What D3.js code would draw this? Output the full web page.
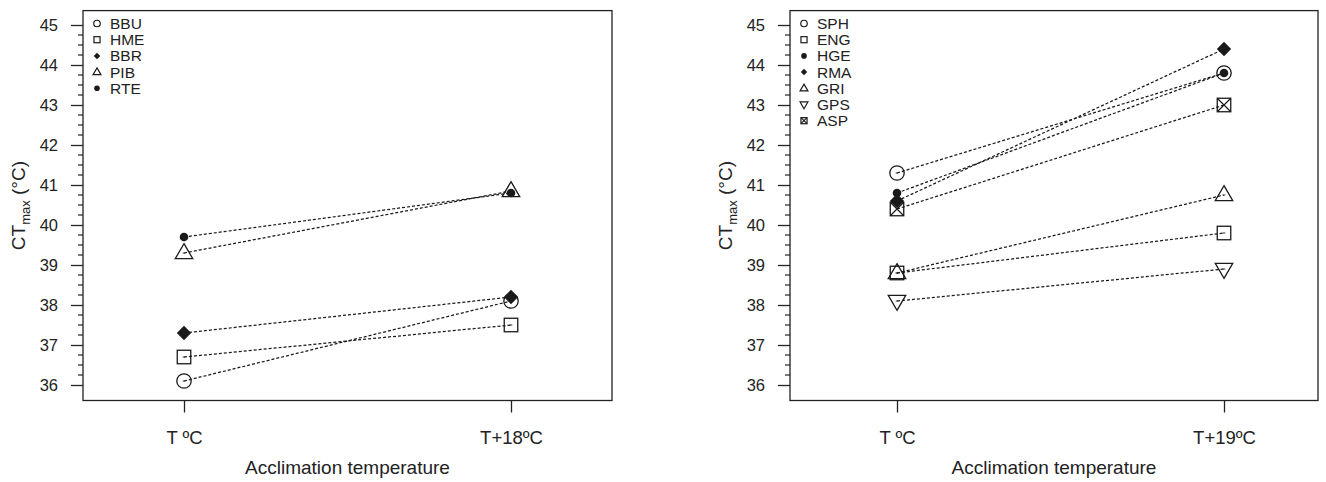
<!DOCTYPE html>
<html>
<head>
<meta charset="utf-8">
<script src="https://cdn.jsdelivr.net/npm/d3@7/dist/d3.min.js"></script>
<style>
  html, body { margin: 0; padding: 0; background: #fff; }
  svg { display: block; font-family: "Liberation Sans", Arial, sans-serif; }
</style>
</head>
<body>
<svg id="chart" width="1326" height="482"></svg>
<script>
// Acclimation levels (x categories) for each panel
const levelsA = ["T ºC", "T+18ºC"];
const levelsB = ["T ºC", "T+19ºC"];

// Panel A populations and their CTmax at each acclimation level
const popsA = ["BBU", "HME", "BBR", "PIB", "RTE"];
const lowA  = [36.1, 36.7, 37.3, 39.3, 39.7];
const highA = [38.1, 37.5, 38.2, 40.85, 40.8];

// Panel B populations
const popsB = ["SPH", "ENG", "HGE", "RMA", "GRI", "GPS", "ASP"];
const lowB  = [41.3, 38.8, 40.8, 40.6, 38.8, 38.1, 40.4];
const highB = [43.8, 39.8, 43.8, 44.4, 40.75, 38.9, 43.0];

// Y axis ticks
const yTicks = [36, 37, 38, 39, 40, 41, 42, 43, 44, 45];

// Plotting symbol per population
const shapesA = ["circle", "square", "diamond", "triangle", "dot"];
const shapesB = ["circle", "square", "dot", "diamond", "triangle", "triangleDown", "squareX"];

const svg = d3.select("#chart");
const ink = "#1a1a1a";

const frameTop = 10.6, frameBottom = 400.5;
const y = d3.scaleLinear().domain([36, 45]).range([385, 25]);

function drawMarker(g, shape, cx, cy, big) {
  const k = big ? 1 : 0.45;
  const sw = big ? 1.3 : 1.2;
  const sg = g.append("g").attr("transform", `translate(${cx},${cy})`);
  if (shape === "circle") {
    sg.append("circle").attr("r", 7.2 * k).attr("fill", "none").attr("stroke", ink).attr("stroke-width", sw);
  } else if (shape === "square" || shape === "squareX") {
    const s = 13.5 * k;
    sg.append("rect").attr("x", -s / 2).attr("y", -s / 2).attr("width", s).attr("height", s)
      .attr("fill", "none").attr("stroke", ink).attr("stroke-width", sw);
    if (shape === "squareX") {
      sg.append("path").attr("d", `M${-s/2},${-s/2}L${s/2},${s/2}M${s/2},${-s/2}L${-s/2},${s/2}`)
        .attr("stroke", ink).attr("stroke-width", sw * 0.9);
    }
  } else if (shape === "diamond") {
    const r = 7.2 * k;
    sg.append("path").attr("d", `M0,${-r}L${r},0L0,${r}L${-r},0Z`).attr("fill", ink);
  } else if (shape === "dot") {
    sg.append("circle").attr("r", big ? 4.3 : 2.8).attr("fill", ink);
  } else if (shape === "triangle" || shape === "triangleDown") {
    const h = 15 * k, w = 17.5 * k;
    const dir = shape === "triangle" ? 1 : -1;
    const p = `M0,${-dir * h * 0.62}L${w / 2},${dir * h * 0.38}L${-w / 2},${dir * h * 0.38}Z`;
    sg.append("path").attr("d", p).attr("fill", "none").attr("stroke", ink).attr("stroke-width", sw);
  }
  if (big && (shape === "circle" || shape === "square" || shape === "triangle" || shape === "triangleDown")) {
    sg.append("line").attr("x1", -1.3).attr("x2", 1.3).attr("y1", 0).attr("y2", 0)
      .attr("stroke", "#333").attr("stroke-width", 1);
  }
}

function panel(cfg) {
  const { left, right, tick1, tick2, levels, pops, low, high, shapes } = cfg;
  const g = svg.append("g");
  const x = d3.scalePoint().domain(levels).range([tick1, tick2]);

  // Connecting dotted lines
  pops.forEach((p, i) => {
    g.append("line")
      .attr("x1", x(levels[0])).attr("y1", y(low[i]))
      .attr("x2", x(levels[1])).attr("y2", y(high[i]))
      .attr("stroke", ink).attr("stroke-width", 1.25)
      .attr("stroke-dasharray", "3,2");
  });

  // Points
  pops.forEach((p, i) => {
    drawMarker(g, shapes[i], x(levels[0]), y(low[i]), true);
    drawMarker(g, shapes[i], x(levels[1]), y(high[i]), true);
  });

  // Frame
  g.append("rect").attr("x", left).attr("y", frameTop)
    .attr("width", right - left).attr("height", frameBottom - frameTop)
    .attr("fill", "none").attr("stroke", "#222").attr("stroke-width", 1.3);

  // Y axis with minor ticks
  const minor = d3.range(36, 45.001, 0.25).filter(v => Math.abs(v - Math.round(v)) > 1e-6);
  const yAxis = d3.axisLeft(y).tickValues(yTicks).tickSize(12).tickPadding(13).tickFormat(d3.format("d"));
  const ya = g.append("g").attr("transform", `translate(${left},0)`).call(yAxis);
  ya.select(".domain").remove();
  ya.selectAll("line").attr("stroke", "#222").attr("stroke-width", 1.3);
  ya.selectAll("text").attr("font-size", 16.5).attr("fill", "#222")
    .attr("font-family", "Liberation Sans, Arial, sans-serif");
  g.selectAll(".minor").data(minor).join("line")
    .attr("x1", left - 5).attr("x2", left)
    .attr("y1", d => y(d)).attr("y2", d => y(d))
    .attr("stroke", "#222").attr("stroke-width", 1.2);

  // X axis
  const xAxis = d3.axisBottom(x).tickSize(12).tickPadding(18);
  const xa = g.append("g").attr("transform", `translate(0,${frameBottom})`).call(xAxis);
  xa.select(".domain").remove();
  xa.selectAll("line").attr("stroke", "#222").attr("stroke-width", 1.3);
  xa.selectAll("text").attr("font-size", 18.5).attr("fill", "#222")
    .attr("font-family", "Liberation Sans, Arial, sans-serif");

  // Axis titles
  g.append("text").attr("x", (left + right) / 2).attr("y", 474)
    .attr("text-anchor", "middle").attr("font-size", 19).attr("fill", "#222")
    .text("Acclimation temperature");

  const yl = g.append("text")
    .attr("transform", `translate(${left - 58},${(frameTop + frameBottom) / 2}) rotate(-90)`)
    .attr("text-anchor", "middle").attr("font-size", 19).attr("fill", "#222");
  yl.append("tspan").text("CT");
  yl.append("tspan").attr("font-size", 13).attr("dy", 5).text("max");
  yl.append("tspan").attr("dy", -5).text(" (°C)");

  // Legend
  const lg = g.append("g");
  pops.forEach((p, i) => {
    const ly = 23.5 + i * 16.2;
    drawMarker(lg, shapes[i], left + 14, ly, false);
    lg.append("text").attr("x", left + 27).attr("y", ly + 5.5)
      .attr("font-size", 15.5).attr("fill", "#222").text(p);
  });
}

panel({ left: 83, right: 612, tick1: 184, tick2: 511, levels: levelsA,
        pops: popsA, low: lowA, high: highA, shapes: shapesA });
panel({ left: 790, right: 1318, tick1: 897, tick2: 1224, levels: levelsB,
        pops: popsB, low: lowB, high: highB, shapes: shapesB });
</script>
</body>
</html>
